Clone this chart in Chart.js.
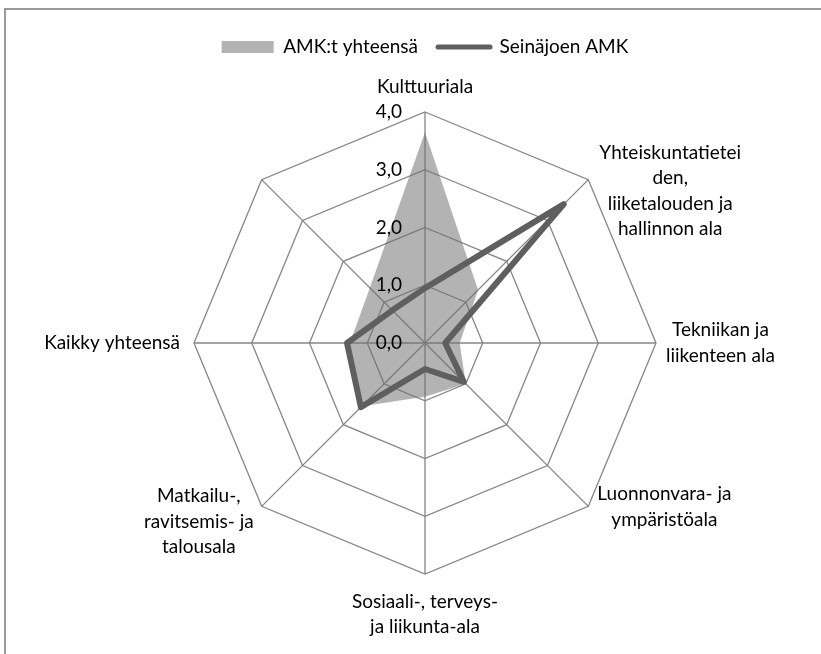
<!DOCTYPE html>
<html><head><meta charset="utf-8">
<script src="https://cdn.jsdelivr.net/npm/chart.js@4.4.0/dist/chart.umd.min.js"></script>
<style>
html,body{margin:0;padding:0;background:#fff;overflow:hidden;}
#wrap{position:relative;width:821px;height:654px;overflow:hidden;background:#fff;}
#frame{position:absolute;left:4px;top:8px;width:900px;height:800px;border:2px solid #9a9a9a;box-sizing:border-box;}
canvas{position:absolute;left:0;top:0;}
</style></head><body>
<div id="wrap"><div id="frame"></div><canvas id="c" width="821" height="654"></canvas></div>
<script>
// ---- data ----
const categories = [
  ['Kulttuuriala'],
  ['Yhteiskuntatietei', 'den,', 'liiketalouden ja', 'hallinnon ala'],
  ['Tekniikan ja', 'liikenteen ala'],
  ['Luonnonvara- ja', 'ympäristöala'],
  ['Sosiaali-, terveys-', 'ja liikunta-ala'],
  ['Matkailu-,', 'ravitsemis- ja', 'talousala'],
  ['Kaikky yhteensä'],
  ['']
];
const amkTotal = [3.65, 1.3, 0.6, 1.0, 0.93, 1.55, 1.3, 1.35];
const seamk    = [0.95, 3.4, 0.35, 0.95, 0.45, 1.57, 1.35, 0.8];
const tickLabels = ['0,0', '1,0', '2,0', '3,0', '4,0'];
const seriesNames = ['AMK:t yhteensä', 'Seinäjoen AMK'];

const FONT = '19px Lato';

const excelLabels = {
  id: 'excelLabels',
  afterDatasetsDraw(chart) {
    const s = chart.scales.r;
    const ctx = chart.ctx;
    ctx.save();
    ctx.font = FONT;
    ctx.fillStyle = '#000';
    ctx.textBaseline = 'middle';
    ctx.textAlign = 'right';
    s.ticks.forEach((t, i) => {
      const y = s.yCenter - s.getDistanceFromCenterForValue(t.value);
      ctx.fillText(tickLabels[i], s.xCenter - 23, y);
    });
    ctx.textAlign = 'center';
    const lh = 25.5;
    chart.data.labels.forEach((lines, i) => {
      if (!lines.join('')) return;
      const p = s.getPointPosition(i, s.drawingArea);
      const deg = ((Math.round(s.getIndexAngle(i) * 180 / Math.PI) % 360) + 360) % 360;
      const w = Math.max(...lines.map(l => ctx.measureText(l).width));
      const h = lines.length * lh;
      let cx, top;
      if (deg === 0) { cx = p.x; top = p.y - 12 - h; }
      else if (deg === 180) { cx = p.x; top = p.y + 15; }
      else if (deg === 90) { cx = p.x + 10 + w / 2; top = p.y - h / 2; }
      else if (deg === 270) { cx = p.x - 14 - w / 2; top = p.y - h / 2; }
      else if (deg < 90) { cx = p.x + 11 + w / 2; top = p.y - 40; }
      else if (deg < 180) { cx = p.x + 9 + w / 2; top = p.y - 25; }
      else if (deg < 270) { cx = p.x - 8 - w / 2; top = p.y - 23; }
      else { cx = p.x - 11 - w / 2; top = p.y - 40; }
      lines.forEach((l, k) => ctx.fillText(l, cx, top + lh * k + lh / 2));
    });
    ctx.restore();
  }
};

function make() {
  new Chart(document.getElementById('c'), {
    type: 'radar',
    data: {
      labels: categories,
      datasets: [
        { label: seriesNames[0], data: amkTotal, backgroundColor: 'rgba(110,110,110,0.52)',
          borderWidth: 0, fill: true, pointRadius: 0, order: 1 },
        { label: seriesNames[1], data: seamk, borderColor: '#5f5f5f', backgroundColor: '#5f5f5f',
          borderWidth: 6, fill: false, pointRadius: 0, borderJoinStyle: 'round', order: 0 }
      ]
    },
    options: {
      responsive: false,
      devicePixelRatio: 1,
      animation: false,
      layout: { padding: { left: 194, right: 165, top: 17.5, bottom: 34.5 } },
      plugins: {
        tooltip: { enabled: false },
        legend: {
          position: 'top',
          labels: {
            usePointStyle: true, pointStyleWidth: 52, boxHeight: 12,
            padding: 20,
            font: { family: 'Lato', size: 19 },
            color: '#000',
            generateLabels() {
              return [
                { text: seriesNames[0], fillStyle: '#b3b3b3', strokeStyle: '#b3b3b3', lineWidth: 0,
                  pointStyle: 'rect', datasetIndex: 0, hidden: false, fontColor: '#000' },
                { text: seriesNames[1], fillStyle: '#5f5f5f', strokeStyle: '#5f5f5f', lineWidth: 5,
                  lineCap: 'round', pointStyle: 'line', datasetIndex: 1, hidden: false, fontColor: '#000' }
              ];
            }
          }
        }
      },
      scales: {
        r: {
          min: 0, max: 4,
          ticks: { stepSize: 1, display: false },
          grid: { color: '#868686', lineWidth: 1.3, circular: false },
          angleLines: { color: '#868686', lineWidth: 1.3 },
          pointLabels: { display: false }
        }
      }
    },
    plugins: [excelLabels]
  });
}
if (document.fonts && document.fonts.load) {
  document.fonts.load(FONT).then(make, make);
} else { make(); }
</script>
</body></html>
